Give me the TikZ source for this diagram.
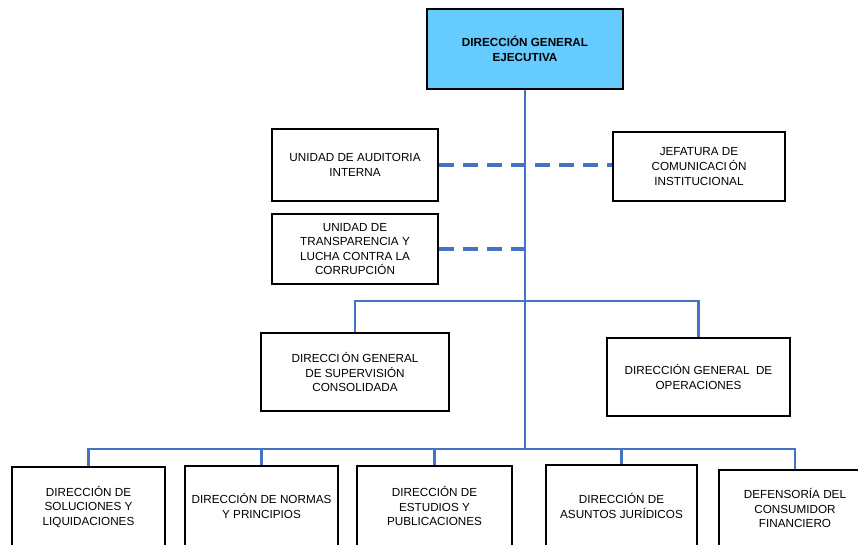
\documentclass[tikz,border=0pt]{standalone}
\usepackage{fontspec}
\setmainfont{Liberation Sans}
\definecolor{linkblue}{HTML}{4472C4}
\definecolor{topfill}{HTML}{66CCFF}
\begin{document}
\begin{tikzpicture}[x=1pt,y=-1pt,
  box/.style={draw=black, line width=2pt, rectangle, align=center, inner sep=2pt,
    font=\fontsize{11.7}{14.6}\selectfont},
  link/.style={draw=linkblue, line width=2.3pt},
  dlink/.style={draw=linkblue, line width=3.2pt, dash pattern=on 15pt off 9pt}]
\useasboundingbox (0,0) rectangle (858,544);
\fill[white] (0,0) rectangle (858,544);
% nodes
\node[box, fill=topfill, minimum width=196pt, minimum height=80pt, font=\fontsize{11.7}{14.6}\selectfont\bfseries] (top) at (525,49) {DIRECCIÓN GENERAL\\EJECUTIVA};
\node[box, minimum width=166pt, minimum height=72pt] (aud) at (355,165) {UNIDAD DE AUDITORIA\\INTERNA};
\node[box, minimum width=172pt, minimum height=69pt] (jef) at (699,166.5) {JEFATURA DE\\COMUNICACI\,ÓN\\INSTITUCIONAL};
\node[box, minimum width=166pt, minimum height=70pt] (trans) at (355,249) {UNIDAD DE\\TRANSPARENCIA Y\\LUCHA CONTRA LA\\CORRUPCIÓN};
\node[box, minimum width=188pt, minimum height=78pt] (sup) at (355,372) {DIRECCI\,ÓN GENERAL\\DE SUPERVISIÓN\\CONSOLIDADA};
\node[box, minimum width=183pt, minimum height=78pt] (ope) at (698.5,377) {DIRECCIÓN GENERAL\ \ DE\\OPERACIONES};
\node[box, minimum width=153pt, minimum height=80pt] (b1) at (88.5,507) {DIRECCIÓN DE\\SOLUCIONES Y\\LIQUIDACIONES};
\node[box, minimum width=153pt, minimum height=80pt] (b2) at (261.5,506) {DIRECCIÓN DE NORMAS\\Y PRINCIPIOS};
\node[box, minimum width=155pt, minimum height=80pt] (b3) at (434.5,506) {DIRECCIÓN DE\\ESTUDIOS Y\\PUBLICACIONES};
\node[box, minimum width=151pt, minimum height=82pt] (b4) at (621.5,506) {DIRECCIÓN DE\\ASUNTOS JURÍDICOS};
\node[box, minimum width=152pt, minimum height=76pt] (b5) at (795,508) {DEFENSORÍA DEL\\CONSUMIDOR\\FINANCIERO};
% bus coordinates
\coordinate (bus2) at (525,301);
\coordinate (bus3) at (525,449);
% connectors
\draw[dlink] (aud.east) -- (aud.east -| jef.west);
\draw[dlink] (trans.east) -- (trans.east -| top.south);
\draw[link] (top.south) -- (bus3);
\draw[link] (sup.north) -- (sup.north |- bus2) -- (ope.north |- bus2) -- (ope.north);
\draw[link] (b1.north) -- (b1.north |- bus3) -- (b5.north |- bus3) -- (b5.north);
\draw[link] (b2.north) -- (b2.north |- bus3);
\draw[link] (b3.north) -- (b3.north |- bus3);
\draw[link] (b4.north) -- (b4.north |- bus3);
\end{tikzpicture}
\end{document}
